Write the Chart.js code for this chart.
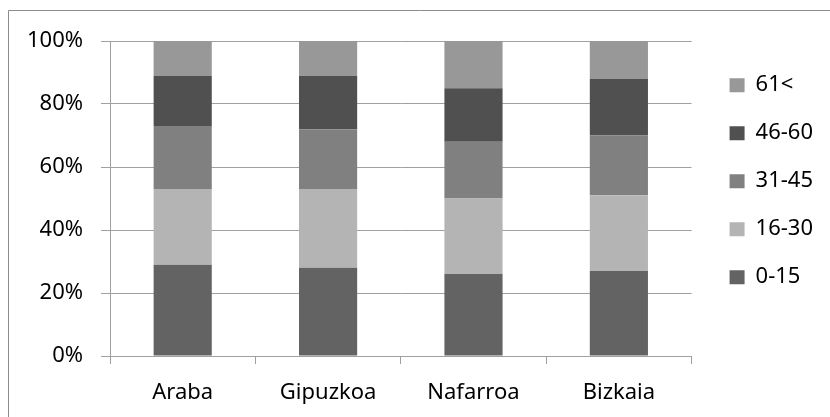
<!DOCTYPE html>
<html>
<head>
<meta charset="utf-8">
<script src="https://cdn.jsdelivr.net/npm/chart.js@4"></script>
<style>
  html, body { margin: 0; padding: 0; background: #fff; }
  #wrap { width: 830px; height: 417px; position: relative; }
</style>
</head>
<body>
<div id="wrap"><canvas id="chart" width="830" height="417"></canvas></div>
<script>
const categories = ['Araba', 'Gipuzkoa', 'Nafarroa', 'Bizkaia'];
const seriesNames = ['0-15', '16-30', '31-45', '46-60', '61<'];
const age0to15 = [29, 28, 26, 27];
const age16to30 = [24, 25, 24, 24];
const age31to45 = [20, 19, 18, 19];
const age46to60 = [16, 17, 17, 18];
const age61plus = [11, 11, 15, 12];
const yTicks = [0, 20, 40, 60, 80, 100];

const seriesValues = [age0to15, age16to30, age31to45, age46to60, age61plus];
const seriesColors = ['#636363', '#b4b4b4', '#808080', '#505050', '#989898'];

// chart-area frame: only left and top edges fall inside the picture
const framePlugin = {
  id: 'frame',
  beforeDraw(chart) {
    const c = chart.ctx;
    c.save();
    c.fillStyle = '#fff';
    c.fillRect(0, 0, chart.width, chart.height);
    c.strokeStyle = '#8c8c8c';
    c.lineWidth = 1;
    c.beginPath();
    c.moveTo(8.5, chart.height);
    c.lineTo(8.5, 10.5);
    c.lineTo(chart.width, 10.5);
    c.stroke();
    c.restore();
  }
};

Chart.defaults.font.family = '"Noto Sans", "Open Sans", sans-serif';
Chart.defaults.font.size = 22;
Chart.defaults.color = '#000';

new Chart(document.getElementById('chart'), {
  type: 'bar',
  data: {
    labels: categories,
    datasets: seriesNames.map((name, i) => ({
      label: name,
      data: seriesValues[i],
      backgroundColor: seriesColors[i],
      borderWidth: 0,
      categoryPercentage: 1,
      barPercentage: 0.4
    }))
  },
  options: {
    responsive: false,
    animation: false,
    devicePixelRatio: 1,
    layout: { padding: { top: 41, left: 0, right: 7, bottom: 0 } },
    plugins: {
      tooltip: { enabled: false },
      legend: {
        position: 'right',
        reverse: true,
        align: 'start',
        maxWidth: 128,
        title: { display: true, text: ' ', font: { size: 1 }, padding: 3 },
        labels: {
          boxWidth: 15,
          boxHeight: 14,
          padding: 26
        }
      }
    },
    scales: {
      x: {
        stacked: true,
        grid: { drawOnChartArea: false, color: '#a0a0a0', tickLength: 8 },
        border: { color: '#a0a0a0' },
        ticks: { padding: 16, maxRotation: 0 },
        afterFit(axis) { axis.height = 61; }
      },
      y: {
        stacked: true,
        min: 0,
        max: 100,
        afterBuildTicks(axis) { axis.ticks = yTicks.map(v => ({ value: v })); },
        grid: { color: '#a0a0a0', tickLength: 9 },
        border: { color: '#a0a0a0' },
        ticks: { padding: 18, callback: v => v + '%' },
        afterFit(axis) { axis.width = 110; }
      },
      // empty spacer between the plot and the legend
      gap: {
        axis: 'y',
        position: 'right',
        grid: { display: false },
        border: { display: false },
        ticks: { display: false },
        afterFit(axis) { axis.width = 12; }
      }
    }
  },
  plugins: [framePlugin]
});
</script>
</body>
</html>
